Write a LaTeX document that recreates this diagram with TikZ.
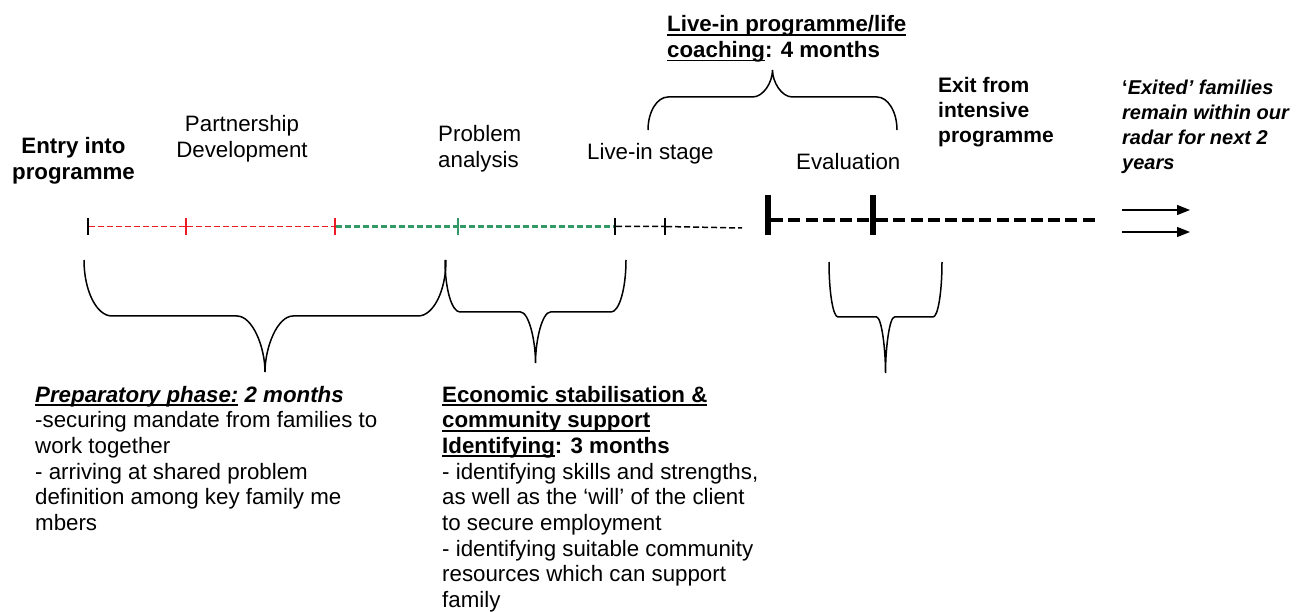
\documentclass[tikz,border=0pt]{standalone}
\usepackage{fontspec}
\setmainfont{Liberation Sans}
\usetikzlibrary{arrows.meta}

\definecolor{vermelho}{RGB}{237,28,36}
\definecolor{verde}{RGB}{51,153,102}

% text size of the original slide
\newcommand{\tam}{\fontsize{22.3}{25.7}\selectfont}
\newcommand{\sublinha}[1]{\setbox0\hbox{#1}\rlap{\rule[-3.8pt]{\wd0}{1.8pt}}\box0\relax}
% brace: left x, right x, leg end y, bar y, tip y, curve width
\newcommand{\chave}[6]{%
  \draw[chaveta] (#1,#3) .. controls (#1,{#3+0.55*(#4-#3)}) and ({#1+0.45*#6},#4) .. ({#1+#6},#4)
    -- ({(#1+#2)/2-#6},#4) .. controls ({(#1+#2)/2-0.45*#6},#4) and ({(#1+#2)/2},{#5-0.45*(#5-#4)}) .. ({(#1+#2)/2},#5)
    .. controls ({(#1+#2)/2},{#5-0.45*(#5-#4)}) and ({(#1+#2)/2+0.45*#6},#4) .. ({(#1+#2)/2+#6},#4)
    -- ({#2-#6},#4) .. controls ({#2-0.45*#6},#4) and (#2,{#3+0.55*(#4-#3)}) .. (#2,#3);}

\begin{document}
\begin{tikzpicture}[x=1pt, y=1pt,
  every node/.style={inner sep=0pt, font=\tam},
  texto/.style={anchor=base west, align=left}
]
\tikzset{
  negrito/.style={font=\tam\bfseries},
  fino/.style={fill, minimum width=1.8pt, minimum height=17pt},
  grosso/.style={fill, minimum width=6pt, minimum height=40pt},
  tracejado/.style={dash pattern=on 6pt off 3pt},
  chaveta/.style={line width=1.5pt},
  seta/.style={line width=1.3pt, -{Triangle[length=13pt, width=10pt]}}
}
\useasboundingbox (0,0) rectangle (1309,-612);

% labels above the line (placed at the baseline of their last line)
\node[negrito, anchor=base, align=center] (entry) at (73.5,-179.5) {Entry into\\programme};
\node[anchor=base, align=center] (partner) at (242,-157.7) {Partnership\\Development};
\node[texto] (problem) at (438,-167.7) {Problem\\analysis};
\node[texto] (livein) at (587,-160) {Live-in stage};
\node[texto] (eval) at (796,-170) {Evaluation};
\node[texto, font=\fontsize{21}{25}\selectfont\bfseries] (exit) at (938,-143) {Exit from\\intensive\\programme};
\node[texto, font=\fontsize{20}{25}\selectfont\bfseries\itshape] (exited) at (1122,-170)
  {{\upshape‘}Exited’ families\\remain within our\\radar for next 2\\years};
\node[texto, negrito] (coach) at (667,-57.7)
  {\sublinha{Live-in programme/life}\\\sublinha{coaching}: 4 months};

% the time line
\node[fino] (t0) at (88,-226.5) {};
\node[fino, vermelho, minimum width=2.2pt] (r1) at (186,-226.5) {};
\node[fino, vermelho, minimum width=2.2pt] (r2) at (335,-226.5) {};
\node[fino, verde, minimum width=2.6pt] (g1) at (458,-226.5) {};
\node[fino] (k1) at (615,-226.5) {};
\node[fino] (k2) at (665,-226.5) {};
\coordinate (kend) at (742,-228);
\node[grosso] (b0) at (768,-215) {};
\node[grosso] (b1) at (873,-215) {};
\coordinate (bend) at (1098,-220);

\draw[tracejado, vermelho, line width=1.8pt] (t0) -- (r1) (r1) -- (r2);
\draw[tracejado, verde, line width=2.3pt] (r2) -- (g1) (g1) -- (k1);
\draw[tracejado, line width=1.5pt] (k1) -- (k2) (k2) -- (kend);
\draw[dash pattern=on 12pt off 5.2pt, line width=3.3pt]
  ([yshift=-5pt]b0.east) -- ([yshift=-5pt]b1.west)
  ([yshift=-5pt]b1.east) -- (bend);

\coordinate (s1) at (1122,-210);
\coordinate (e1) at (1190,-210);
\coordinate (s2) at (1122,-232);
\coordinate (e2) at (1190,-232);
\draw[seta] (s1) -- (e1);
\draw[seta] (s2) -- (e2);

% braces
\chave{84}{446}{-260}{-316}{-372}{28}
\chave{445}{626}{-260}{-312}{-363}{15}
\chave{829}{942}{-262}{-317}{-373}{9}
\chave{648}{897}{-130}{-97}{-70}{20}

% phases below the line
\node[texto] (prep) at (35,-530.5)
  {\bfseries\itshape\sublinha{Preparatory phase:} 2 months\\
  -securing mandate from families to\\
  work together\\
  - arriving at shared problem\\
  definition among key family me\\
  mbers};
\node[texto] (econ) at (442,-607.6)
  {\bfseries\sublinha{Economic stabilisation \&}\\
  \bfseries\sublinha{community support}\\
  \bfseries\sublinha{Identifying}: 3 months\\
  - identifying skills and strengths,\\
  as well as the ‘will’ of the client\\
  to secure employment\\
  - identifying suitable community\\
  resources which can support\\
  family};
\end{tikzpicture}
\end{document}
